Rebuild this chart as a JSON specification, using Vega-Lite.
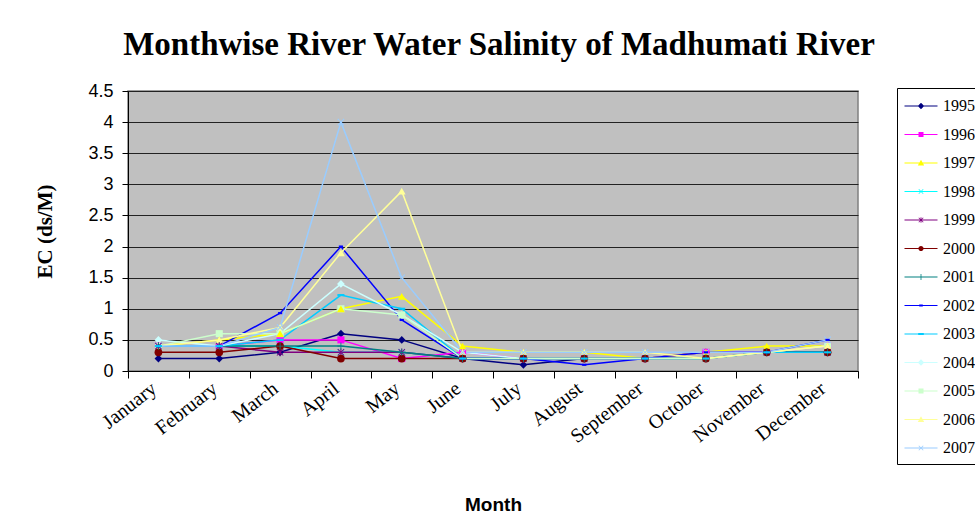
{
  "$schema": "https://vega.github.io/schema/vega-lite/v6.json",
  "width": 730,
  "height": 280,
  "autosize": {"type": "none"},
  "padding": {"left": 128, "top": 91, "right": 117, "bottom": 153},
  "background": "white",
  "title": {
    "text": "Monthwise River Water Salinity of Madhumati River",
    "font": "Liberation Serif",
    "fontSize": 33,
    "fontWeight": "bold",
    "color": "black",
    "anchor": "middle",
    "dx": 6,
    "offset": 20
  },
  "config": {
    "view": {"fill": "#C0C0C0", "stroke": "#808080", "strokeWidth": 1.5}
  },
  "data": {
    "values": [
      {"Year": "1995", "Month": "January", "EC": 0.2}, {"Year": "1995", "Month": "February", "EC": 0.2}, {"Year": "1995", "Month": "March", "EC": 0.3}, {"Year": "1995", "Month": "April", "EC": 0.6}, {"Year": "1995", "Month": "May", "EC": 0.5}, {"Year": "1995", "Month": "June", "EC": 0.2}, {"Year": "1995", "Month": "July", "EC": 0.1}, {"Year": "1995", "Month": "August", "EC": 0.2}, {"Year": "1995", "Month": "September", "EC": 0.2}, {"Year": "1995", "Month": "October", "EC": 0.3}, {"Year": "1995", "Month": "November", "EC": 0.3}, {"Year": "1995", "Month": "December", "EC": 0.3},
      {"Year": "1996", "Month": "January", "EC": 0.4}, {"Year": "1996", "Month": "February", "EC": 0.4}, {"Year": "1996", "Month": "March", "EC": 0.5}, {"Year": "1996", "Month": "April", "EC": 0.5}, {"Year": "1996", "Month": "May", "EC": 0.2}, {"Year": "1996", "Month": "June", "EC": 0.3}, {"Year": "1996", "Month": "July", "EC": 0.2}, {"Year": "1996", "Month": "August", "EC": 0.2}, {"Year": "1996", "Month": "September", "EC": 0.2}, {"Year": "1996", "Month": "October", "EC": 0.3}, {"Year": "1996", "Month": "November", "EC": 0.3}, {"Year": "1996", "Month": "December", "EC": 0.4},
      {"Year": "1997", "Month": "January", "EC": 0.4}, {"Year": "1997", "Month": "February", "EC": 0.5}, {"Year": "1997", "Month": "March", "EC": 0.6}, {"Year": "1997", "Month": "April", "EC": 1.0}, {"Year": "1997", "Month": "May", "EC": 1.2}, {"Year": "1997", "Month": "June", "EC": 0.4}, {"Year": "1997", "Month": "July", "EC": 0.3}, {"Year": "1997", "Month": "August", "EC": 0.3}, {"Year": "1997", "Month": "September", "EC": 0.2}, {"Year": "1997", "Month": "October", "EC": 0.3}, {"Year": "1997", "Month": "November", "EC": 0.4}, {"Year": "1997", "Month": "December", "EC": 0.4},
      {"Year": "1998", "Month": "January", "EC": 0.4}, {"Year": "1998", "Month": "February", "EC": 0.4}, {"Year": "1998", "Month": "March", "EC": 0.4}, {"Year": "1998", "Month": "April", "EC": 0.3}, {"Year": "1998", "Month": "May", "EC": 0.3}, {"Year": "1998", "Month": "June", "EC": 0.2}, {"Year": "1998", "Month": "July", "EC": 0.2}, {"Year": "1998", "Month": "August", "EC": 0.2}, {"Year": "1998", "Month": "September", "EC": 0.2}, {"Year": "1998", "Month": "October", "EC": 0.2}, {"Year": "1998", "Month": "November", "EC": 0.3}, {"Year": "1998", "Month": "December", "EC": 0.3},
      {"Year": "1999", "Month": "January", "EC": 0.4}, {"Year": "1999", "Month": "February", "EC": 0.4}, {"Year": "1999", "Month": "March", "EC": 0.3}, {"Year": "1999", "Month": "April", "EC": 0.3}, {"Year": "1999", "Month": "May", "EC": 0.3}, {"Year": "1999", "Month": "June", "EC": 0.2}, {"Year": "1999", "Month": "July", "EC": 0.2}, {"Year": "1999", "Month": "August", "EC": 0.2}, {"Year": "1999", "Month": "September", "EC": 0.2}, {"Year": "1999", "Month": "October", "EC": 0.2}, {"Year": "1999", "Month": "November", "EC": 0.3}, {"Year": "1999", "Month": "December", "EC": 0.3},
      {"Year": "2000", "Month": "January", "EC": 0.3}, {"Year": "2000", "Month": "February", "EC": 0.3}, {"Year": "2000", "Month": "March", "EC": 0.4}, {"Year": "2000", "Month": "April", "EC": 0.2}, {"Year": "2000", "Month": "May", "EC": 0.2}, {"Year": "2000", "Month": "June", "EC": 0.2}, {"Year": "2000", "Month": "July", "EC": 0.2}, {"Year": "2000", "Month": "August", "EC": 0.2}, {"Year": "2000", "Month": "September", "EC": 0.2}, {"Year": "2000", "Month": "October", "EC": 0.2}, {"Year": "2000", "Month": "November", "EC": 0.3}, {"Year": "2000", "Month": "December", "EC": 0.3},
      {"Year": "2001", "Month": "January", "EC": 0.4}, {"Year": "2001", "Month": "February", "EC": 0.4}, {"Year": "2001", "Month": "March", "EC": 0.4}, {"Year": "2001", "Month": "April", "EC": 0.4}, {"Year": "2001", "Month": "May", "EC": 0.3}, {"Year": "2001", "Month": "June", "EC": 0.2}, {"Year": "2001", "Month": "July", "EC": 0.2}, {"Year": "2001", "Month": "August", "EC": 0.2}, {"Year": "2001", "Month": "September", "EC": 0.2}, {"Year": "2001", "Month": "October", "EC": 0.2}, {"Year": "2001", "Month": "November", "EC": 0.3}, {"Year": "2001", "Month": "December", "EC": 0.3},
      {"Year": "2002", "Month": "January", "EC": 0.4}, {"Year": "2002", "Month": "February", "EC": 0.4}, {"Year": "2002", "Month": "March", "EC": 0.93}, {"Year": "2002", "Month": "April", "EC": 2.0}, {"Year": "2002", "Month": "May", "EC": 0.82}, {"Year": "2002", "Month": "June", "EC": 0.2}, {"Year": "2002", "Month": "July", "EC": 0.2}, {"Year": "2002", "Month": "August", "EC": 0.1}, {"Year": "2002", "Month": "September", "EC": 0.2}, {"Year": "2002", "Month": "October", "EC": 0.3}, {"Year": "2002", "Month": "November", "EC": 0.3}, {"Year": "2002", "Month": "December", "EC": 0.5},
      {"Year": "2003", "Month": "January", "EC": 0.4}, {"Year": "2003", "Month": "February", "EC": 0.4}, {"Year": "2003", "Month": "March", "EC": 0.5}, {"Year": "2003", "Month": "April", "EC": 1.22}, {"Year": "2003", "Month": "May", "EC": 1.0}, {"Year": "2003", "Month": "June", "EC": 0.2}, {"Year": "2003", "Month": "July", "EC": 0.2}, {"Year": "2003", "Month": "August", "EC": 0.2}, {"Year": "2003", "Month": "September", "EC": 0.2}, {"Year": "2003", "Month": "October", "EC": 0.2}, {"Year": "2003", "Month": "November", "EC": 0.3}, {"Year": "2003", "Month": "December", "EC": 0.3},
      {"Year": "2004", "Month": "January", "EC": 0.5}, {"Year": "2004", "Month": "February", "EC": 0.4}, {"Year": "2004", "Month": "March", "EC": 0.6}, {"Year": "2004", "Month": "April", "EC": 1.4}, {"Year": "2004", "Month": "May", "EC": 0.9}, {"Year": "2004", "Month": "June", "EC": 0.3}, {"Year": "2004", "Month": "July", "EC": 0.2}, {"Year": "2004", "Month": "August", "EC": 0.2}, {"Year": "2004", "Month": "September", "EC": 0.2}, {"Year": "2004", "Month": "October", "EC": 0.2}, {"Year": "2004", "Month": "November", "EC": 0.3}, {"Year": "2004", "Month": "December", "EC": 0.4},
      {"Year": "2005", "Month": "January", "EC": 0.4}, {"Year": "2005", "Month": "February", "EC": 0.6}, {"Year": "2005", "Month": "March", "EC": 0.6}, {"Year": "2005", "Month": "April", "EC": 1.0}, {"Year": "2005", "Month": "May", "EC": 0.9}, {"Year": "2005", "Month": "June", "EC": 0.2}, {"Year": "2005", "Month": "July", "EC": 0.2}, {"Year": "2005", "Month": "August", "EC": 0.2}, {"Year": "2005", "Month": "September", "EC": 0.2}, {"Year": "2005", "Month": "October", "EC": 0.2}, {"Year": "2005", "Month": "November", "EC": 0.3}, {"Year": "2005", "Month": "December", "EC": 0.4},
      {"Year": "2006", "Month": "January", "EC": 0.4}, {"Year": "2006", "Month": "February", "EC": 0.5}, {"Year": "2006", "Month": "March", "EC": 0.7}, {"Year": "2006", "Month": "April", "EC": 1.9}, {"Year": "2006", "Month": "May", "EC": 2.89}, {"Year": "2006", "Month": "June", "EC": 0.3}, {"Year": "2006", "Month": "July", "EC": 0.3}, {"Year": "2006", "Month": "August", "EC": 0.3}, {"Year": "2006", "Month": "September", "EC": 0.3}, {"Year": "2006", "Month": "October", "EC": 0.2}, {"Year": "2006", "Month": "November", "EC": 0.3}, {"Year": "2006", "Month": "December", "EC": 0.4},
      {"Year": "2007", "Month": "January", "EC": 0.4}, {"Year": "2007", "Month": "February", "EC": 0.4}, {"Year": "2007", "Month": "March", "EC": 0.7}, {"Year": "2007", "Month": "April", "EC": 4.0}, {"Year": "2007", "Month": "May", "EC": 1.5}, {"Year": "2007", "Month": "June", "EC": 0.3}, {"Year": "2007", "Month": "July", "EC": 0.3}, {"Year": "2007", "Month": "August", "EC": 0.3}, {"Year": "2007", "Month": "September", "EC": 0.3}, {"Year": "2007", "Month": "October", "EC": 0.3}, {"Year": "2007", "Month": "November", "EC": 0.3}, {"Year": "2007", "Month": "December", "EC": 0.5}
    ]
  },
  "encoding": {
    "x": {
      "field": "Month",
      "type": "ordinal",
      "sort": ["January", "February", "March", "April", "May", "June", "July", "August", "September", "October", "November", "December"],
      "scale": {"type": "band", "paddingInner": 0, "paddingOuter": 0},
      "axis": {
        "title": "Month",
        "titleFont": "Liberation Sans",
        "titleFontSize": 19,
        "titleFontWeight": "bold",
        "titleColor": "black",
        "titlePadding": 49,
        "labelFont": "Liberation Serif",
        "labelFontSize": 20,
        "labelColor": "black",
        "labelAngle": -38,
        "labelAlign": "right",
        "labelBaseline": "top",
        "labelPadding": 0,
        "labelOffset": -11,
        "domainColor": "black",
        "domainWidth": 1,
        "ticks": true,
        "tickBand": "extent",
        "tickSize": 7,
        "tickColor": "black",
        "grid": false
      }
    },
    "y": {
      "field": "EC",
      "type": "quantitative",
      "scale": {"domain": [0, 4.5], "nice": false, "zero": true},
      "axis": {
        "title": "EC (ds/M)",
        "titleFont": "Liberation Serif",
        "titleFontSize": 21,
        "titleFontWeight": "bold",
        "titleColor": "black",
        "titlePadding": 32,
        "values": [0, 0.5, 1, 1.5, 2, 2.5, 3, 3.5, 4, 4.5],
        "format": "~g",
        "labelFont": "Liberation Sans",
        "labelFontSize": 18,
        "labelColor": "black",
        "labelPadding": 9,
        "tickSize": 6,
        "tickColor": "black",
        "domainColor": "black",
        "gridColor": "#222222",
        "gridWidth": 1.2,
        "grid": true
      }
    },
    "color": {
      "field": "Year",
      "type": "nominal",
      "scale": {
        "domain": ["1995", "1996", "1997", "1998", "1999", "2000", "2001", "2002", "2003", "2004", "2005", "2006", "2007"],
        "range": ["#000080", "#FF00FF", "#FFFF00", "#00FFFF", "#800080", "#800000", "#008080", "#0000FF", "#00CCFF", "#CCFFFF", "#CCFFCC", "#FFFF99", "#99CCFF"]
      },
      "legend": null
    }
  },
  "layer": [
    {
      "mark": {"type": "line", "strokeWidth": 1.5},
      "encoding": {
        "color": {
          "field": "Year",
          "type": "nominal",
          "legend": {
            "title": null,
            "orient": "none",
            "legendX": 769,
            "legendY": -3,
            "strokeColor": "black",
            "fillColor": "white",
            "padding": 8,
            "symbolSize": 400,
            "symbolOffset": 6,
            "labelOffset": 12,
            "rowPadding": 10.5,
            "labelFont": "Liberation Serif",
            "labelFontSize": 16,
            "labelColor": "black",
            "encode": {
              "symbols": {
                "update": {
                  "shape": {"signal": "['M-1.65,-0.05H1.65V0.05H-1.65Z M0,-0.32L0.32,0L0,0.32L-0.32,0Z', 'M-1.65,-0.05H1.65V0.05H-1.65Z M-0.25,-0.25H0.25V0.25H-0.25Z', 'M-1.65,-0.05H1.65V0.05H-1.65Z M0,-0.32L0.32,0.24H-0.32Z', 'M-1.65,-0.05H1.65V0.05H-1.65Z M-0.2,-0.25L0,-0.05L0.2,-0.25L0.25,-0.2L0.05,0L0.25,0.2L0.2,0.25L0,0.05L-0.2,0.25L-0.25,0.2L-0.05,0L-0.25,-0.2Z', 'M-1.65,-0.05H1.65V0.05H-1.65Z M-0.2,-0.25L0,-0.05L0.2,-0.25L0.25,-0.2L0.05,0L0.25,0.2L0.2,0.25L0,0.05L-0.2,0.25L-0.25,0.2L-0.05,0L-0.25,-0.2Z M-0.04,-0.28H0.04V0.28H-0.04Z', 'M-1.65,-0.05H1.65V0.05H-1.65Z M-0.26,0A0.26,0.26,0,1,1,0.26,0A0.26,0.26,0,1,1,-0.26,0Z', 'M-1.65,-0.05H1.65V0.05H-1.65Z M-0.04,-0.3H0.04V0.3H-0.04Z', 'M-1.65,-0.05H1.65V0.05H-1.65Z M-0.18,-0.09H0.18V0.09H-0.18Z', 'M-1.65,-0.05H1.65V0.05H-1.65Z M-0.28,-0.09H0.28V0.09H-0.28Z', 'M-1.65,-0.05H1.65V0.05H-1.65Z M0,-0.32L0.32,0L0,0.32L-0.32,0Z', 'M-1.65,-0.05H1.65V0.05H-1.65Z M-0.25,-0.25H0.25V0.25H-0.25Z', 'M-1.65,-0.05H1.65V0.05H-1.65Z M0,-0.32L0.32,0.24H-0.32Z', 'M-1.65,-0.05H1.65V0.05H-1.65Z M-0.2,-0.25L0,-0.05L0.2,-0.25L0.25,-0.2L0.05,0L0.25,0.2L0.2,0.25L0,0.05L-0.2,0.25L-0.25,0.2L-0.05,0L-0.25,-0.2Z'][indexof(['1995','1996','1997','1998','1999','2000','2001','2002','2003','2004','2005','2006','2007'], datum.label)]"},
                  "fill": {"scale": "color", "field": "value"},
                  "stroke": {"value": "transparent"},
                  "strokeWidth": {"value": 0},
                  "opacity": {"value": 1}
                }
              }
            }
          }
        }
      }
    },
    {
      "transform": [{"filter": {"field": "Year", "oneOf": ["1995", "2004"]}}],
      "mark": {"type": "point", "filled": true, "size": 60, "opacity": 1, "strokeWidth": 0, "shape": "diamond"}
    },
    {
      "transform": [{"filter": {"field": "Year", "oneOf": ["1996", "2005"]}}],
      "mark": {"type": "point", "filled": true, "size": 50, "opacity": 1, "strokeWidth": 0, "shape": "square"}
    },
    {
      "transform": [{"filter": {"field": "Year", "oneOf": ["1997", "2006"]}}],
      "mark": {"type": "point", "filled": true, "size": 60, "opacity": 1, "strokeWidth": 0, "shape": "triangle-up"}
    },
    {
      "transform": [{"filter": {"field": "Year", "oneOf": ["1998", "2007"]}}],
      "mark": {"type": "point", "filled": true, "size": 50, "opacity": 1, "strokeWidth": 0, "shape": "M-0.8,-1L0,-0.2L0.8,-1L1,-0.8L0.2,0L1,0.8L0.8,1L0,0.2L-0.8,1L-1,0.8L-0.2,0L-1,-0.8Z"}
    },
    {
      "transform": [{"filter": {"field": "Year", "equal": "1999"}}],
      "mark": {"type": "point", "filled": true, "size": 50, "opacity": 1, "strokeWidth": 0, "shape": "M-0.8,-1L0,-0.2L0.8,-1L1,-0.8L0.2,0L1,0.8L0.8,1L0,0.2L-0.8,1L-1,0.8L-0.2,0L-1,-0.8Z M-0.15,-1.1H0.15V1.1H-0.15Z"}
    },
    {
      "transform": [{"filter": {"field": "Year", "equal": "2000"}}],
      "mark": {"type": "point", "filled": true, "size": 60, "opacity": 1, "strokeWidth": 0, "shape": "circle"}
    },
    {
      "transform": [{"filter": {"field": "Year", "equal": "2001"}}],
      "mark": {"type": "point", "filled": true, "size": 50, "opacity": 1, "strokeWidth": 0, "shape": "M-0.12,-1H0.12V-0.12H1V0.12H0.12V1H-0.12V0.12H-1V-0.12H-0.12Z"}
    },
    {
      "transform": [{"filter": {"field": "Year", "equal": "2002"}}],
      "mark": {"type": "point", "filled": true, "size": 50, "opacity": 1, "strokeWidth": 0, "shape": "M-0.6,-0.3H0.6V0.3H-0.6Z"}
    },
    {
      "transform": [{"filter": {"field": "Year", "equal": "2003"}}],
      "mark": {"type": "point", "filled": true, "size": 50, "opacity": 1, "strokeWidth": 0, "shape": "M-1,-0.3H1V0.3H-1Z"}
    }
  ]
}
